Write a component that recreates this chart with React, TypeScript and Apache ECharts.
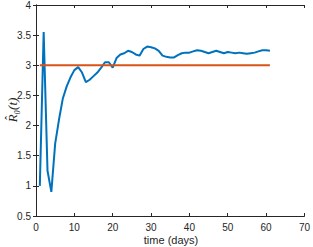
import React, { useEffect, useRef } from "react";
import * as echarts from "echarts";

const days = [
  1, 2, 3, 4, 5, 6, 7, 8, 9, 10, 11, 12, 13, 14, 15, 16, 17, 18, 19, 20,
  21, 22, 23, 24, 25, 26, 27, 28, 29, 30, 31, 32, 33, 34, 35, 36, 37, 38, 39, 40,
  41, 42, 43, 44, 45, 46, 47, 48, 49, 50, 51, 52, 53, 54, 55, 56, 57, 58, 59, 60, 61,
];
const r0Estimate = [
  1.0, 3.55, 1.25, 0.9, 1.7, 2.1, 2.45, 2.65, 2.8, 2.92, 2.97, 2.88, 2.72, 2.76, 2.82, 2.88, 2.96, 3.05, 3.05, 2.96,
  3.12, 3.18, 3.2, 3.24, 3.22, 3.18, 3.16, 3.27, 3.31, 3.3, 3.28, 3.24, 3.16, 3.14, 3.13, 3.13, 3.17, 3.2, 3.21, 3.21,
  3.23, 3.25, 3.24, 3.22, 3.2, 3.22, 3.24, 3.22, 3.2, 3.22, 3.21, 3.2, 3.21, 3.2, 3.19, 3.2, 3.21, 3.23, 3.25, 3.25, 3.24,
];
const trueR0 = 3;
const xTicks = { min: 0, max: 70, interval: 10 };
const yTicks = { min: 0.5, max: 4, interval: 0.5 };
const xLabel = "time (days)";
const yLabel = "R\u0302\u2080(t)";

export default function App() {
  const ref = useRef<HTMLDivElement>(null);
  useEffect(() => {
    if (!ref.current) return;
    const chart = echarts.init(ref.current, null, { renderer: "svg" });
    const axisColor = "#262626";
    const tickFont = { fontSize: 10, color: axisColor, fontFamily: "Liberation Sans, Arial, sans-serif" };
    const axisLine = { show: true, lineStyle: { color: axisColor, width: 1 } };
    const axisTick = { show: true, inside: true, length: 3, lineStyle: { color: axisColor } };
    chart.setOption({
      animation: false,
      grid: { left: 36, right: 6, top: 4, bottom: 31, containLabel: false },
      xAxis: [
        {
          type: "value", ...xTicks, position: "bottom",
          axisLine, axisTick, splitLine: { show: false },
          axisLabel: { ...tickFont, margin: 6 },
        },
        {
          type: "value", ...xTicks, position: "top",
          axisLine, axisTick, splitLine: { show: false },
          axisLabel: { show: false },
        },
      ],
      yAxis: [
        {
          type: "value", ...yTicks, position: "left",
          axisLine, axisTick, splitLine: { show: false },
          axisLabel: { ...tickFont, margin: 5 },
        },
        {
          type: "value", ...yTicks, position: "right",
          axisLine, axisTick, splitLine: { show: false },
          axisLabel: { show: false },
        },
      ],
      series: [
        {
          type: "line",
          data: days.map((d, i) => [d, r0Estimate[i]]),
          showSymbol: false,
          lineStyle: { color: "#0072BD", width: 2 },
          itemStyle: { color: "#0072BD" },
        },
        {
          type: "line",
          data: [[days[0], trueR0], [days[days.length - 1], trueR0]],
          showSymbol: false,
          lineStyle: { color: "#D95319", width: 2 },
          itemStyle: { color: "#D95319" },
        },
      ],
      graphic: [
        {
          type: "text",
          x: 171,
          y: 240,
          style: {
            text: xLabel,
            fontSize: 11,
            fill: axisColor,
            fontFamily: "Liberation Sans, Arial, sans-serif",
            textAlign: "center",
            textVerticalAlign: "middle",
          },
        },
        {
          type: "text",
          x: 12,
          y: 110,
          rotation: Math.PI / 2,
          style: {
            text: yLabel,
            fontSize: 13,
            fontStyle: "italic",
            fill: axisColor,
            fontFamily: "Liberation Serif, DejaVu Serif, serif",
            textAlign: "center",
            textVerticalAlign: "middle",
          },
        },
      ],
    });
    return () => chart.dispose();
  }, []);
  return <div ref={ref} style={{ width: 313, height: 247, position: "absolute", left: 0, top: 0, background: "#fff" }} />;
}
